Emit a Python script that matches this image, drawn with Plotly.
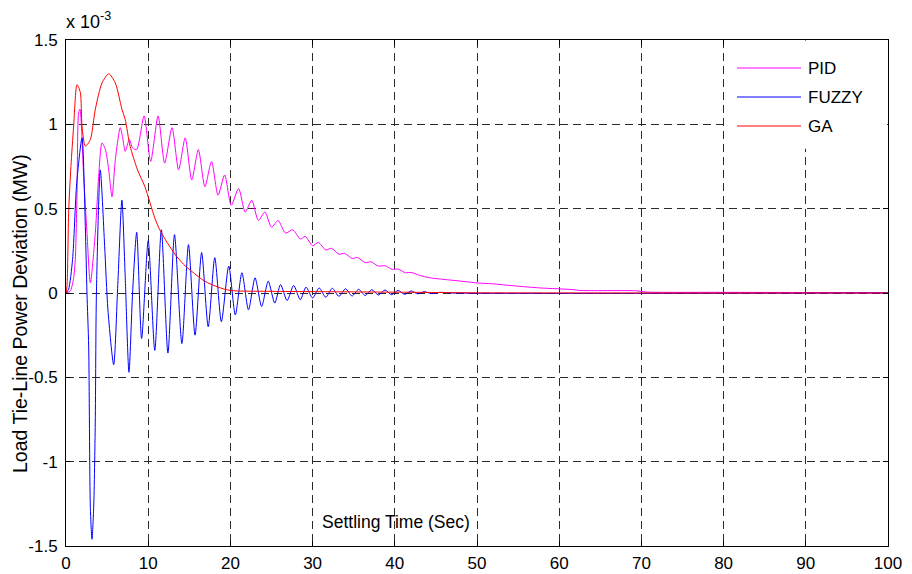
import plotly.graph_objects as go

# Values in units of 1e-3 MW
pid_t = [0, 0.5, 0.9, 1.13, 1.34, 1.54, 1.7, 2.15, 2.55, 2.96, 3.57, 3.97, 4.38, 4.79, 5.2, 5.6,
         6.0, 6.6, 6.9, 7.2, 7.7, 8.1, 8.6, 9.5, 10.3, 11.2, 12.0, 12.9, 13.7, 14.5, 15.3, 16.1,
         16.9, 17.7, 18.5, 19.3, 20.1, 21.0, 21.8, 22.6, 23.4, 24.2, 25.0, 25.8, 26.7, 27.6,
         28.5, 29.1, 30.0, 30.7, 31.6, 32.3, 33.2, 33.9, 34.8, 35.5, 36.4, 37.1, 38.0, 38.8,
         39.7, 40.4, 41.3, 42.0, 43.0, 44.3, 46.3, 48.3, 50.2, 51.8, 54.4, 57.7, 61.7, 62.5,
         69.4, 70.5, 80, 100]
pid_v = [0, 0.01, 0.08, 0.2, 0.59, 1.07, 1.09, 0.69, 0.36, 0.06, 0.36, 0.69, 0.89, 0.85, 0.73, 0.57,
         0.79, 0.98, 0.92, 0.84, 0.91, 0.86, 0.85, 1.05, 0.78, 1.05, 0.77, 0.98, 0.73, 0.92, 0.67, 0.85,
         0.63, 0.78, 0.58, 0.70, 0.52, 0.62, 0.48, 0.55, 0.43, 0.48, 0.39, 0.43, 0.355, 0.375,
         0.32, 0.336, 0.28, 0.30, 0.255, 0.265, 0.23, 0.235, 0.205, 0.21, 0.18, 0.185, 0.16, 0.162,
         0.14, 0.142, 0.12, 0.122, 0.105, 0.09, 0.079, 0.069, 0.059, 0.055, 0.043, 0.03, 0.02, 0.015,
         0.013, 0.006, 0.004, 0.002]

fuzzy_t = [0, 0.3, 0.8, 1.3, 1.95, 2.35, 2.55, 2.76, 2.96, 3.16, 3.37, 3.56, 3.7, 4.17, 4.7, 5.1,
           5.8, 6.3, 6.8, 7.2, 7.66, 8.1, 8.6, 9.2, 10.0, 10.8, 11.6, 12.4, 13.2, 14.1, 14.9, 15.7,
           16.5, 17.3, 18.1, 18.9, 19.8, 20.6, 21.4, 22.2, 23.0, 23.8, 24.6, 25.4, 26.1, 26.9,
           27.7, 28.5, 29.2, 30.0, 30.8, 31.6, 32.4, 33.2, 34.0, 34.8, 35.6, 36.4, 37.2, 38.0,
           38.8, 39.6, 40.4, 41.2, 42.0, 42.8, 43.6, 44.4, 45.5, 47, 100]
fuzzy_v = [0, 0.02, 0.2, 0.65, 0.92, 0.395, 0.0, -0.32, -1.27, -1.46, -1.27, -0.77, 0.0, 0.73, 0.28, -0.1,
           -0.425, 0.05, 0.55, 0.1, -0.47, 0.0, 0.36, -0.27, 0.31, -0.34, 0.375, -0.356, 0.346, -0.30, 0.287, -0.25,
           0.24, -0.20, 0.21, -0.17, 0.16, -0.13, 0.12, -0.10, 0.09, -0.08, 0.07, -0.06, 0.05, -0.045,
           0.045, -0.04, 0.035, -0.03, 0.03, -0.025, 0.028, -0.02, 0.025, -0.018, 0.022, -0.015, 0.02, -0.012,
           0.018, -0.01, 0.015, -0.008, 0.012, -0.005, 0.008, -0.003, 0.004, 0, 0]

ga_t = [0, 0.12, 0.33, 0.6, 0.93, 1.34, 1.74, 1.95, 2.35, 2.96, 3.57, 4.38, 5.2, 6.0, 6.8, 7.2,
        7.8, 8.7, 9.6, 10.8, 11.4, 12.3, 13.3, 14.3, 15.3, 16.9, 18.5, 20, 25, 30, 40, 45, 50, 100]
ga_v = [0, 0.04, 0.49, 0.75, 0.99, 1.235, 1.19, 0.99, 0.87, 0.91, 1.09, 1.245, 1.30, 1.245, 1.09, 1.03,
        0.87, 0.73, 0.63, 0.445, 0.375, 0.30, 0.227, 0.17, 0.128, 0.069, 0.035, 0.015, 0.01, 0.008, 0.005, 0.003, 0.001, 0]

series_names = ["PID", "FUZZY", "GA"]
series_colors = ["#FF00FF", "#0000FF", "#FF0000"]

x_ticks = [0, 10, 20, 30, 40, 50, 60, 70, 80, 90, 100]
y_ticks = [-1.5, -1, -0.5, 0, 0.5, 1, 1.5]
y_ticktext = ["-1.5", "-1", "-0.5", "0", "0.5", "1", "1.5"]

FONT = "Liberation Sans, Arial, sans-serif"

fig = go.Figure()
for name, t, v, c in zip(series_names, [pid_t, fuzzy_t, ga_t], [pid_v, fuzzy_v, ga_v], series_colors):
    fig.add_trace(go.Scatter(x=t, y=v, mode="lines", name=name,
                             line=dict(color=c, width=1, shape="spline", smoothing=0.7),
                             showlegend=False))

axis_common = dict(showline=True, linecolor="black", linewidth=1, mirror="allticks",
                   ticks="inside", ticklen=5, tickcolor="black", automargin=False,
                   showgrid=True, gridcolor="#2a2a2a", gridwidth=1, griddash="8px,5px",
                   zeroline=False, tickfont=dict(family=FONT, size=17, color="black"))

fig.update_xaxes(range=[0, 100], tickvals=x_ticks, ticklabelstandoff=2, **axis_common)
fig.update_yaxes(range=[-1.5, 1.5], tickvals=y_ticks, ticktext=y_ticktext, ticklabelstandoff=4, **axis_common)

# Manual legend (MATLAB style)
L_left, L_bottom = 0.803, 0.785
fig.add_shape(type="rect", xref="paper", yref="paper", x0=L_left, x1=0.999, y0=L_bottom, y1=0.999,
              fillcolor="white", line=dict(width=0), layer="above")
row_y = [(546 - 68) / 506, (546 - 97) / 506, (546 - 126) / 506]
for name, c, yy in zip(series_names, series_colors, row_y):
    fig.add_shape(type="line", xref="paper", yref="paper",
                  x0=(737 - 66) / 822, x1=(801 - 66) / 822, y0=yy, y1=yy,
                  line=dict(color=c, width=1), layer="above")
    fig.add_annotation(xref="paper", yref="paper", x=(806 - 66) / 822, y=yy, text=name,
                       showarrow=False, xanchor="left", yanchor="middle",
                       font=dict(family=FONT, size=17, color="black"))

# Exponent label
fig.add_annotation(xref="paper", yref="paper", x=(64 - 66) / 822, y=(546 - 20) / 506,
                   text="x 10<sup>-3</sup>", showarrow=False, xanchor="left", yanchor="middle",
                   font=dict(family=FONT, size=18, color="black"))
# Axis titles (MATLAB-like placement)
fig.add_annotation(xref="paper", yref="paper", x=(396 - 66) / 822, y=(546 - 522) / 506,
                   text="Settling Time (Sec)", showarrow=False, xanchor="center", yanchor="middle",
                   font=dict(family=FONT, size=17.5, color="black"))
fig.add_annotation(xref="paper", yref="paper", x=(20 - 66) / 822, y=(546 - 314) / 506,
                   text="Load Tie-Line Power Deviation (MW)", textangle=-90, showarrow=False,
                   xanchor="center", yanchor="middle",
                   font=dict(family=FONT, size=19.5, color="black"))

fig.update_layout(width=912, height=574, margin=dict(l=66, r=24, t=40, b=28, autoexpand=False),
                  paper_bgcolor="white", plot_bgcolor="white",
                  font=dict(family=FONT, size=17, color="black"))

fig.write_html("out.html")
